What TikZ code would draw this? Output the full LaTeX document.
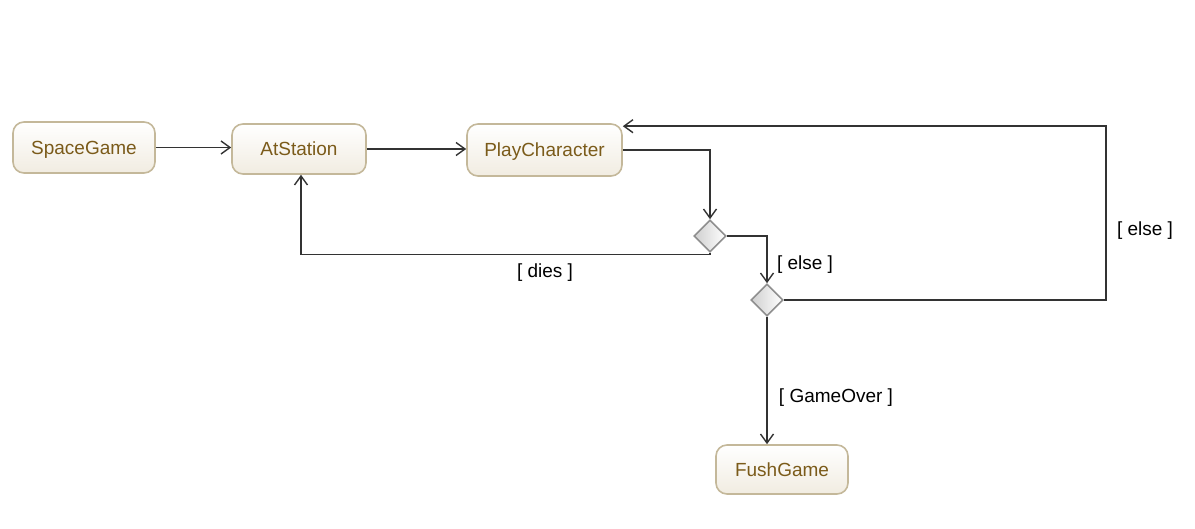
\documentclass[tikz,border=0pt]{standalone}
\usepackage{fontspec}
\setmainfont{Liberation Sans}
\usetikzlibrary{shapes.geometric,arrows.meta}
\definecolor{nodetext}{HTML}{7B5B1A}
\definecolor{nodeborder}{HTML}{C4B89A}
\definecolor{nodebottom}{HTML}{F1ECE1}
\definecolor{diaborder}{HTML}{8F8F8F}
\definecolor{diabottom}{HTML}{CFCFCF}
\definecolor{edgecol}{HTML}{333333}
\begin{document}
\begin{tikzpicture}[x=1pt,y=-1pt,
  statebox/.style={rectangle, rounded corners=11pt, draw=nodeborder, line width=1.6pt,
    top color=white, bottom color=nodebottom, text=nodetext,
    font=\fontsize{19}{22}\selectfont, inner sep=0pt, text depth=0pt},
  decision/.style={diamond, draw=diaborder, line width=1.6pt, inner sep=0pt,
    minimum width=32pt, minimum height=32pt, shading=axis, shading angle=45,
    left color=diabottom, right color=white},
  flow/.style={draw=edgecol, line width=1.4pt,
    -{Straight Barb[length=9pt,width=13pt,line width=1.4pt]}},
  guard/.style={font=\fontsize{19}{22}\selectfont, text=black, inner sep=0pt, text depth=0pt}]
\useasboundingbox (0,0) rectangle (1195,529);
\node[statebox, minimum width=142pt, minimum height=51pt] (sg) at (84,147.5) {SpaceGame};
\node[statebox, minimum width=134pt, minimum height=50pt] (at) at (299,149) {AtStation};
\node[statebox, minimum width=155pt, minimum height=52pt] (pc) at (544.5,150) {PlayCharacter};
\node[decision] (d1) at (710,236) {};
\node[decision] (d2) at (767,300) {};
\node[statebox, minimum width=132pt, minimum height=49pt] (fg) at (782,469.5) {FushGame};
\coordinate (rt) at (1106,300);
\draw[flow] (sg.east) -- (sg.east -| at.west);
\draw[flow] (at.east) -- (at.east -| pc.west);
\draw[flow] (pc.east) -| (d1.north);
\draw[flow] (d1.south) -- ++(0,2) -| ([xshift=2pt]at.south);
\draw[flow] (d1.east) -| (d2.north);
\draw[flow] (d2.east) -- (rt) |- ([yshift=-3pt]pc.north east);
\draw[flow] (d2.south) -- (d2.south |- fg.north);
\node[guard] (ldies) at (545,271) {[ dies ]};
\node[guard] (lelse1) at (805,263) {[ else ]};
\node[guard] (lelse2) at (1145,229) {[ else ]};
\node[guard] (lgo) at (836,396) {[ GameOver ]};
\end{tikzpicture}
\end{document}
